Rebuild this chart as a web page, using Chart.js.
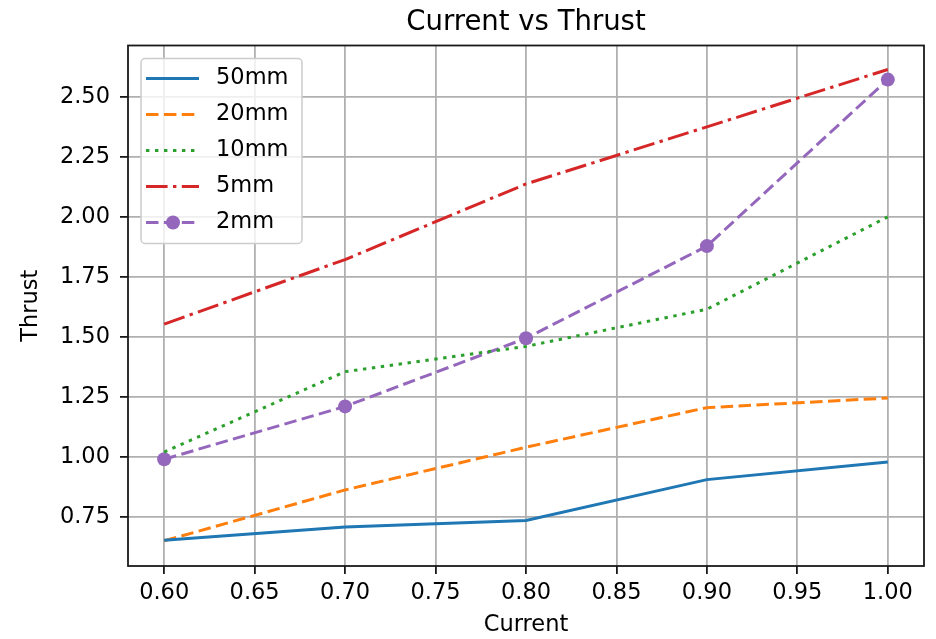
<!DOCTYPE html>
<html>
<head>
<meta charset="utf-8">
<script src="https://cdn.jsdelivr.net/npm/chart.js@4.4.1/dist/chart.umd.min.js"></script>
<style>
  html, body { margin: 0; padding: 0; background: #fff; }
  #wrap { width: 936px; height: 639px; }
</style>
</head>
<body>
<div id="wrap"><canvas id="thrustChart" width="936" height="639"></canvas></div>
<script>
// values
const currents = [0.6, 0.7, 0.8, 0.9, 1.0];
const thrust50mm = [0.652, 0.708, 0.735, 0.905, 0.978];
const thrust20mm = [0.65, 0.862, 1.04, 1.205, 1.245];
const thrust10mm = [1.02, 1.355, 1.46, 1.615, 2.0];
const thrust5mm = [1.553, 1.822, 2.137, 2.375, 2.614];
const thrust2mm = [0.99, 1.21, 1.494, 1.878, 2.572];
const seriesNames = ['50mm', '20mm', '10mm', '5mm', '2mm'];

const xTickValues = [0.60, 0.65, 0.70, 0.75, 0.80, 0.85, 0.90, 0.95, 1.00];
const xTickLabels = ['0.60', '0.65', '0.70', '0.75', '0.80', '0.85', '0.90', '0.95', '1.00'];
const yTickValues = [0.75, 1.00, 1.25, 1.50, 1.75, 2.00, 2.25, 2.50];
const yTickLabels = ['0.75', '1.00', '1.25', '1.50', '1.75', '2.00', '2.25', '2.50'];

// matplotlib tab10 colours + line styles
const lineStyles = [
  { color: '#1f77b4', dash: [], radius: 0 },
  { color: '#ff7f0e', dash: [12.5, 5.4], radius: 0 },
  { color: '#2ca02c', dash: [3.4, 5.6], radius: 0 },
  { color: '#d62728', dash: [21.6, 5.4, 3.4, 5.4], radius: 0 },
  { color: '#9467bd', dash: [12.5, 5.4], radius: 7 }
];

const seriesValues = [thrust50mm, thrust20mm, thrust10mm, thrust5mm, thrust2mm];

const datasets = seriesValues.map((vals, i) => ({
  label: seriesNames[i],
  data: currents.map((c, j) => ({ x: c, y: vals[j] })),
  borderColor: lineStyles[i].color,
  backgroundColor: lineStyles[i].color,
  borderDash: lineStyles[i].dash,
  borderWidth: 3,
  borderCapStyle: 'butt',
  tension: 0,
  fill: false,
  pointRadius: lineStyles[i].radius,
  pointHoverRadius: lineStyles[i].radius,
  pointBorderWidth: 0,
  pointBackgroundColor: lineStyles[i].color
}));

const frameBox = {
  id: 'frameBox',
  afterDatasetsDraw(chart) {
    const { ctx, chartArea: a } = chart;
    ctx.save();
    ctx.strokeStyle = '#1a1a1a';
    ctx.lineWidth = 1.8;
    ctx.strokeRect(a.left, a.top, a.right - a.left, a.bottom - a.top);
    ctx.restore();
  }
};

const legendBox = {
  id: 'legendBox',
  afterDraw(chart) {
    const { ctx, chartArea: a } = chart;
    const x0 = a.left + 13, y0 = a.top + 13, w = 161, h = 185;
    ctx.save();
    ctx.beginPath();
    ctx.roundRect(x0, y0, w, h, 4);
    ctx.fillStyle = 'rgba(255,255,255,0.8)';
    ctx.fill();
    ctx.strokeStyle = '#cccccc';
    ctx.lineWidth = 1.5;
    ctx.stroke();
    chart.data.datasets.forEach((ds, i) => {
      const y = y0 + 20 + i * 36;
      ctx.setLineDash(ds.borderDash);
      ctx.strokeStyle = ds.borderColor;
      ctx.lineWidth = ds.borderWidth;
      ctx.beginPath();
      ctx.moveTo(x0 + 5, y);
      ctx.lineTo(x0 + 58, y);
      ctx.stroke();
      if (ds.pointRadius > 0) {
        ctx.setLineDash([]);
        ctx.fillStyle = ds.borderColor;
        ctx.beginPath();
        ctx.arc(x0 + 32, y, ds.pointRadius, 0, Math.PI * 2);
        ctx.fill();
      }
      ctx.fillStyle = '#000';
      ctx.font = '22.5px "DejaVu Sans"';
      ctx.textBaseline = 'middle';
      ctx.fillText(ds.label, x0 + 75, y);
    });
    ctx.restore();
  }
};

Chart.defaults.font.family = '"DejaVu Sans", sans-serif';
Chart.defaults.color = '#000';

const ctx = document.getElementById('thrustChart').getContext('2d');
new Chart(ctx, {
  type: 'line',
  data: { datasets: datasets },
  plugins: [frameBox, legendBox],
  options: {
    responsive: false,
    animation: false,
    devicePixelRatio: 1,
    layout: { padding: { left: 0, right: 12, top: 0, bottom: 0 } },
    plugins: {
      legend: { display: false },
      tooltip: { enabled: false },
      title: {
        display: true,
        text: 'Current vs Thrust',
        fullSize: false,
        color: '#000',
        font: { size: 27.5, weight: 'normal', lineHeight: 1.2 },
        padding: { top: 6.5, bottom: 6 }
      }
    },
    scales: {
      x: {
        type: 'linear',
        min: 0.58,
        max: 1.02,
        afterBuildTicks: scale => { scale.ticks = xTickValues.map(v => ({ value: v })); },
        afterFit: scale => { scale.height = 73; },
        ticks: {
          autoSkip: false,
          maxRotation: 0,
          padding: 5.5,
          font: { size: 22.5 },
          color: '#000',
          callback: (v, i) => xTickLabels[i]
        },
        grid: { color: '#b0b0b0', lineWidth: 1.8, tickLength: 8, tickColor: '#1a1a1a', tickWidth: 1.8 },
        border: { display: false },
        title: {
          display: true,
          text: 'Current',
          color: '#000',
          font: { size: 22.5, lineHeight: 1.2 },
          padding: { top: 0, bottom: 0 }
        }
      },
      y: {
        type: 'linear',
        min: 0.545,
        max: 2.714,
        afterBuildTicks: scale => { scale.ticks = yTickValues.map(v => ({ value: v })); },
        afterFit: scale => { scale.width = 128; },
        ticks: {
          autoSkip: false,
          padding: 10,
          font: { size: 22.5 },
          color: '#000',
          callback: (v, i) => yTickLabels[i]
        },
        grid: { color: '#b0b0b0', lineWidth: 1.8, tickLength: 8, tickColor: '#1a1a1a', tickWidth: 1.8 },
        border: { display: false },
        title: {
          display: true,
          text: 'Thrust',
          color: '#000',
          font: { size: 22.5, lineHeight: 1.2 },
          padding: { top: 18, bottom: 0 }
        }
      }
    }
  }
});
</script>
</body>
</html>
